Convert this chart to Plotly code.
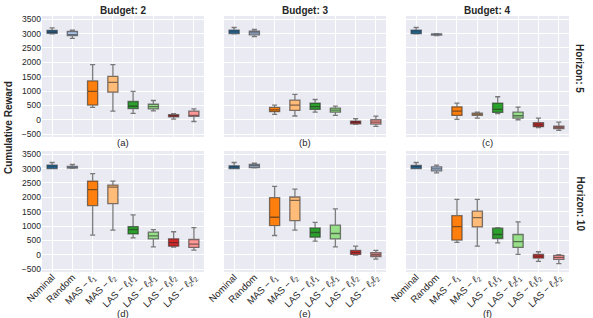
import plotly.graph_objects as go

categories = ["Nominal", "Random", "MAS − <i>ℓ</i><sub>1</sub>", "MAS − <i>ℓ</i><sub>2</sub>",
              "LAS − <i>ℓ</i><sub>1</sub><i>ℓ</i><sub>1</sub>", "LAS − <i>ℓ</i><sub>2</sub><i>ℓ</i><sub>1</sub>",
              "LAS − <i>ℓ</i><sub>1</sub><i>ℓ</i><sub>2</sub>", "LAS − <i>ℓ</i><sub>2</sub><i>ℓ</i><sub>2</sub>"]
colors = ["#1f77b4", "#aec7e8", "#ff7f0e", "#ffbb78", "#2ca02c", "#98df8a", "#d62728", "#ff9896"]

budgets = ["Budget: 2", "Budget: 3", "Budget: 4"]
horizons = ["Horizon: 5", "Horizon: 10"]
panel_labels = ["(a)", "(b)", "(c)", "(d)", "(e)", "(f)"]
y_ticks = [-500, 0, 500, 1000, 1500, 2000, 2500, 3000, 3500]

# (a) Horizon 5, Budget 2
a_low = [2990, 2830, 430, 300, 220, 310, 20, -60]
a_q1 = [3010, 2930, 510, 960, 390, 380, 105, 120]
a_med = [3060, 2950, 990, 1300, 470, 460, 140, 130]
a_q3 = [3110, 3070, 1350, 1510, 635, 540, 175, 300]
a_high = [3200, 3120, 1920, 1920, 990, 670, 210, 380]

# (b) Horizon 5, Budget 3
b_low = [2990, 2890, 185, 130, 265, 150, -160, -230]
b_q1 = [3000, 2955, 280, 325, 360, 265, -140, -150]
b_med = [3060, 3025, 345, 510, 460, 335, -90, -80]
b_q3 = [3120, 3080, 430, 680, 580, 405, -45, 0]
b_high = [3210, 3140, 510, 880, 705, 475, 35, 125]

# (c) Horizon 5, Budget 4
c_low = [2990, 2930, 10, 60, 210, 0, -275, -370]
c_q1 = [2995, 2945, 150, 150, 255, 60, -240, -310]
c_med = [3060, 2970, 300, 195, 360, 140, -180, -265]
c_q3 = [3120, 2990, 450, 230, 580, 265, -105, -220]
c_high = [3210, 3000, 580, 265, 800, 440, 60, -80]

# (d) Horizon 10, Budget 2
d_low = [3000, 3010, 680, 855, 590, 275, 265, 160]
d_q1 = [3000, 3015, 1710, 1780, 725, 555, 300, 255]
d_med = [3060, 3035, 2265, 2355, 875, 660, 425, 370]
d_q3 = [3120, 3070, 2565, 2425, 980, 785, 555, 530]
d_high = [3210, 3140, 2820, 2565, 1385, 875, 800, 945]

# (e) Horizon 10, Budget 3
e_low = [3000, 3025, 670, 855, 475, 275, -10, -150]
e_q1 = [3000, 3035, 1015, 1190, 610, 555, 10, -60]
e_med = [3050, 3095, 1305, 1895, 775, 740, 80, 0]
e_q3 = [3095, 3140, 1985, 2010, 935, 1030, 150, 70]
e_high = [3210, 3185, 2380, 2285, 1130, 1595, 300, 150]

# (f) Horizon 10, Budget 4
f_low = [3000, 2850, 430, 300, 415, 10, -230, -310]
f_q1 = [3000, 2920, 510, 970, 565, 255, -115, -160]
f_med = [3055, 2990, 980, 1295, 705, 460, -45, -90]
f_q3 = [3105, 3060, 1360, 1515, 925, 705, 10, -25]
f_high = [3210, 3120, 1930, 1930, 945, 1145, 105, 0]

panels = [
    (a_low, a_q1, a_med, a_q3, a_high),
    (b_low, b_q1, b_med, b_q3, b_high),
    (c_low, c_q1, c_med, c_q3, c_high),
    (d_low, d_q1, d_med, d_q3, d_high),
    (e_low, e_q1, e_med, e_q3, e_high),
    (f_low, f_q1, f_med, f_q3, f_high),
]

W, H = 593, 318
ML, MR, MT, MB = 42, 24, 16, 46
PW, PH = W - ML - MR, H - MT - MB

def px_x(x):
    return (x - ML) / PW

def px_y(y):
    return (H - MB - y) / PH

col_dom = [(px_x(42), px_x(204)), (px_x(224), px_x(386)), (px_x(406), px_x(569))]
row_dom = [(px_y(137), px_y(16)), (px_y(272), px_y(151))]

FONT = "Liberation Sans, Arial, sans-serif"
TXT = "#262626"
LINE = "rgba(40,40,40,0.6)"

fig = go.Figure()
layout = dict(
    width=W, height=H,
    margin=dict(l=ML, r=MR, t=MT, b=MB, autoexpand=False),
    paper_bgcolor="white", plot_bgcolor="#EAEAF2",
    showlegend=False, boxmode="overlay",
    font=dict(family=FONT, size=9, color=TXT),
)

annotations = []
for p, stats in enumerate(panels):
    r, c = divmod(p, 3)
    idx = p + 1
    xa = "x" if idx == 1 else f"x{idx}"
    ya = "y" if idx == 1 else f"y{idx}"
    low, q1, med, q3, high = stats
    for i, cat in enumerate(categories):
        fig.add_trace(go.Box(
            x=[cat], q1=[q1[i]], median=[med[i]], q3=[q3[i]],
            lowerfence=[low[i]], upperfence=[high[i]],
            fillcolor=colors[i], line=dict(color=LINE, width=1.3),
            width=0.5, whiskerwidth=0.5, boxpoints=False,
            xaxis=xa, yaxis=ya, hoverinfo="skip",
        ))
    layout["xaxis" if idx == 1 else f"xaxis{idx}"] = dict(
        domain=col_dom[c], anchor=ya, type="category",
        categoryorder="array", categoryarray=categories,
        range=[-0.5, 7.5], showgrid=True, gridcolor="white", gridwidth=1,
        showticklabels=(r == 1), tickangle=-45, ticks="",
        ticklabelstandoff=-3,
        tickfont=dict(family=FONT, size=9.5, color=TXT),
        zeroline=False, showline=False, fixedrange=True,
    )
    layout["yaxis" if idx == 1 else f"yaxis{idx}"] = dict(
        domain=row_dom[r], anchor=xa, range=[-600, 3610],
        tickvals=y_ticks, showgrid=True, gridcolor="white", gridwidth=1,
        showticklabels=(c == 0), ticks="", zeroline=False, showline=False,
        tickfont=dict(family=FONT, size=8.5, color=TXT),
    )
    lab_y = px_y(142.5) if r == 0 else px_y(313)
    annotations.append(dict(
        text=panel_labels[p], xref="paper", yref="paper",
        x=(col_dom[c][0] + col_dom[c][1]) / 2, y=lab_y,
        xanchor="center", yanchor="middle", showarrow=False,
        font=dict(family=FONT, size=9.5, color=TXT),
    ))

for c, b in enumerate(budgets):
    annotations.append(dict(
        text=f"<b>{b}</b>", xref="paper", yref="paper",
        x=(col_dom[c][0] + col_dom[c][1]) / 2, y=px_y(10.5),
        xanchor="center", yanchor="middle", showarrow=False,
        font=dict(family=FONT, size=10, color=TXT),
    ))
horizon_y = [69, 204.5]
for r, h in enumerate(horizons):
    annotations.append(dict(
        text=f"<b>{h}</b>", xref="paper", yref="paper",
        x=px_x(580), y=px_y(horizon_y[r]),
        xanchor="center", yanchor="middle", showarrow=False, textangle=90,
        font=dict(family=FONT, size=10, color=TXT),
    ))
annotations.append(dict(
    text="<b>Cumulative Reward</b>", xref="paper", yref="paper",
    x=px_x(8), y=px_y(128), xanchor="center", yanchor="middle",
    showarrow=False, textangle=-90,
    font=dict(family=FONT, size=10, color=TXT),
))
layout["annotations"] = annotations
fig.update_layout(**layout)
fig.write_html("out.html", config={"displayModeBar": False},
               post_script="document.body.style.margin='0';document.body.style.overflow='hidden';")
